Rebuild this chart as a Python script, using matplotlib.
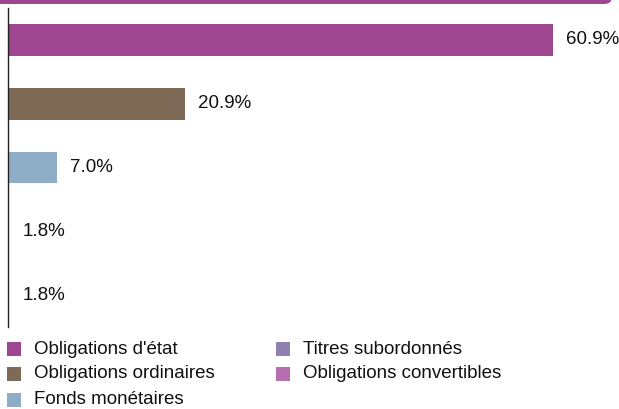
import matplotlib
matplotlib.use("Agg")
import matplotlib.pyplot as plt
from matplotlib.patches import Rectangle, FancyBboxPatch

plt.rcParams['font.family'] = ['Liberation Sans', 'DejaVu Sans']

categories = ["Obligations d'état", "Obligations ordinaires", "Fonds monétaires",
              "Titres subordonnés", "Obligations convertibles"]
values = [60.9, 20.9, 7.0, 1.8, 1.8]
labels = ["60.9%", "20.9%", "7.0%", "1.8%", "1.8%"]
colors = ["#9e4790", "#7d6b57", "#8fadc6", "#8f80b0", "#b56fae"]

W, H = 619, 409
fig = plt.figure(figsize=(W / 100, H / 100), dpi=100)

# top band
band = FancyBboxPatch((-20 / W, (H - 4) / H), (612 + 20) / W, 30 / H,
                      boxstyle="round,pad=0,rounding_size=0.012",
                      transform=fig.transFigure, facecolor="#9e4790",
                      edgecolor="none", mutation_aspect=W / H)
fig.patches.append(band)

ax_left, ax_right = 8, 600
ax_top, ax_bot = 8, 327
ax = fig.add_axes([ax_left / W, (H - ax_bot) / H, (ax_right - ax_left) / W, (ax_bot - ax_top) / H])
xmin = 1.65
scale = 9.19  # px per unit
xmax = xmin + (ax_right - ax_left) / scale
ypos = list(range(len(values)))
ax.barh(ypos, [v - xmin for v in values], left=xmin, height=0.5, color=colors)
ax.set_xlim(xmin, xmax)
ax.set_ylim(len(values) - 0.5, -0.5)
for y, v, lab in zip(ypos, values, labels):
    ax.annotate(lab, (v, y), xytext=(13, 0), textcoords="offset pixels",
                va="center", ha="left", fontsize=13.5, color="#111111")
for s in ["top", "right", "bottom"]:
    ax.spines[s].set_visible(False)
ax.spines["left"].set_color("#222222")
ax.spines["left"].set_linewidth(1)
ax.spines["left"].set_zorder(5)
ax.set_xticks([])
ax.set_yticks([])
ax.patch.set_alpha(0)

# legend
legend_pos = [(7, 349), (7, 374), (7, 400), (276, 349), (276, 374)]
for (x, y), c, name in zip(legend_pos, colors, categories):
    fig.patches.append(Rectangle((x / W, (H - y - 7) / H), 14 / W, 14 / H,
                                 transform=fig.transFigure, facecolor=c, edgecolor="none"))
    fig.text((x + 27) / W, (H - y) / H, name, va="center", ha="left",
             fontsize=13.5, color="#111111")

fig.savefig("out.png", dpi=100)
